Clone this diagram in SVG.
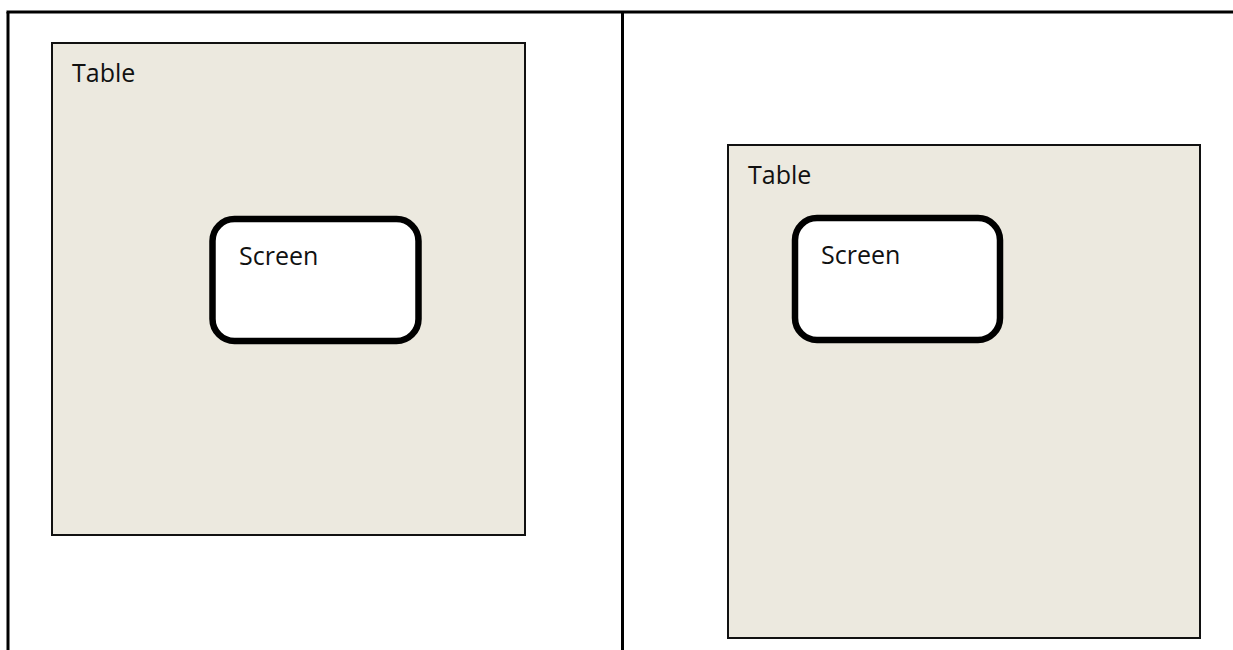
<svg xmlns="http://www.w3.org/2000/svg" width="1233" height="650" viewBox="0 0 1233 650">
<style>
.frame{stroke:#000;stroke-width:3;fill:none}
.table{fill:#ECE9DF;stroke:#111;stroke-width:2}
.screen{fill:#fff;stroke:#000;stroke-width:6.5}
.lbl{font-family:"Open Sans","Noto Sans",sans-serif;font-size:25px;fill:#111}
</style>
<rect width="1233" height="650" fill="#fff"/>
<g id="frame">
<line class="frame" x1="6.5" y1="12" x2="1233" y2="12"/>
<line class="frame" x1="8" y1="12" x2="8" y2="650"/>
<line class="frame" x1="622.5" y1="12" x2="622.5" y2="650"/>
</g>
<g id="table-left">
<rect class="table" x="52" y="43" width="473" height="492"/>
<text class="lbl" x="72" y="82">Table</text>
</g>
<g id="screen-left">
<rect class="screen" x="212.5" y="219" width="206" height="122" rx="22"/>
<text class="lbl" x="239" y="265">Screen</text>
</g>
<g id="table-right">
<rect class="table" x="728" y="145" width="472" height="493"/>
<text class="lbl" x="748" y="184">Table</text>
</g>
<g id="screen-right">
<rect class="screen" x="795" y="218" width="205" height="122" rx="22"/>
<text class="lbl" x="821" y="264">Screen</text>
</g>
<g id="connectors"/>
</svg>
